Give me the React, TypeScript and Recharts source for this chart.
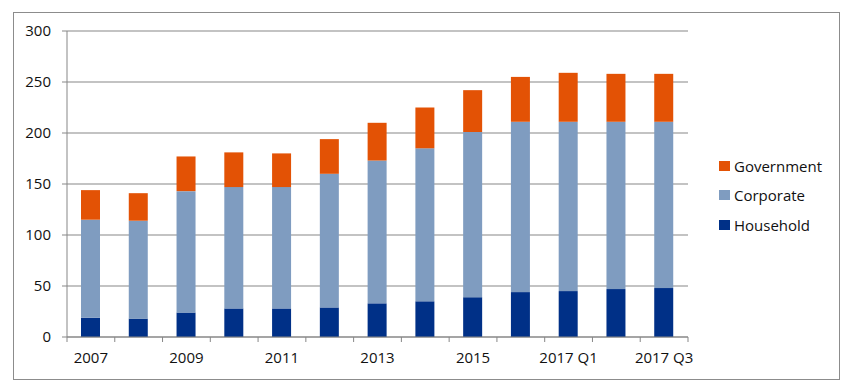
import { BarChart, Bar, XAxis, YAxis, CartesianGrid, Legend } from 'recharts';

const categories = ['2007', '2008', '2009', '2010', '2011', '2012', '2013', '2014', '2015', '2016', '2017 Q1', '2017 Q2', '2017 Q3'];
const household = [19, 18, 24, 28, 28, 29, 33, 35, 39, 44, 45, 47, 48];
const corporate = [96, 96, 119, 119, 119, 131, 140, 150, 162, 167, 166, 164, 163];
const government = [29, 27, 34, 34, 33, 34, 37, 40, 41, 44, 48, 47, 47];
const yTicks = [0, 50, 100, 150, 200, 250, 300];

const series = [
  { key: 'Household', values: household, color: '#003087' },
  { key: 'Corporate', values: corporate, color: '#7f9cc0' },
  { key: 'Government', values: government, color: '#e35205' },
];

const data = categories.map((name, i) => {
  const row: Record<string, any> = { name };
  series.forEach((s) => (row[s.key] = s.values[i]));
  return row;
});

const AXIS = '#878787';
const FONT = '"Open Sans", sans-serif';
const W = 849;
const H = 390;
const margin = { top: 31, right: 161, bottom: 0, left: 0 };
const Y_WIDTH = 67;
const X_HEIGHT = 53;
const TICK_SIZE = 5;
const TICK_MARGIN = 10;

const XTick = (props: any) => {
  const { x, y, payload, index } = props;
  const half = payload?.offset ?? (W - margin.left - margin.right - Y_WIDTH) / categories.length / 2;
  const axisY = y - TICK_SIZE - TICK_MARGIN;
  const last = index === categories.length - 1;
  return (
    <g>
      <line x1={x - half} x2={x - half} y1={axisY} y2={axisY + TICK_SIZE} stroke={AXIS} />
      {last && <line x1={x + half} x2={x + half} y1={axisY} y2={axisY + TICK_SIZE} stroke={AXIS} />}
      {index % 2 === 0 && (
        <text x={x} y={y} dy="0.71em" textAnchor="middle" fontSize={15} fontFamily={FONT} fill="#111">
          {payload.value}
        </text>
      )}
    </g>
  );
};

const LegendContent = () => (
  <div style={{ fontFamily: FONT, fontSize: 15, color: '#111' }}>
    {[...series].reverse().map((s) => (
      <div key={s.key} style={{ display: 'flex', alignItems: 'center', height: 29.5 }}>
        <span style={{ width: 11, height: 10, background: s.color, marginRight: 4, display: 'inline-block' }} />
        <span style={{ lineHeight: '18px' }}>{s.key}</span>
      </div>
    ))}
  </div>
);

export default function App() {
  return (
    <div style={{ position: 'absolute', left: 0, top: 0, width: W, height: H, background: '#fff' }}>
      <div
        style={{
          position: 'absolute',
          left: 13,
          top: 12,
          width: 827,
          height: 368,
          border: '1px solid #8c8c8c',
          boxSizing: 'border-box',
        }}
      />
      <div style={{ position: 'absolute', left: 0, top: 0 }}>
        <BarChart width={W} height={H} data={data} margin={margin} barSize={19}>
          <CartesianGrid vertical={false} stroke={AXIS} />
          <XAxis
            dataKey="name"
            height={X_HEIGHT}
            interval={0}
            stroke={AXIS}
            tickLine={false}
            tickSize={TICK_SIZE}
            tickMargin={TICK_MARGIN}
            tick={<XTick />}
          />
          <YAxis
            width={Y_WIDTH}
            domain={[0, 300]}
            ticks={yTicks}
            interval={0}
            stroke={AXIS}
            tickSize={TICK_SIZE}
            tickMargin={11}
            tick={{ fontSize: 15, fontFamily: FONT, fill: '#111' }}
          />
          {series.map((s) => (
            <Bar key={s.key} dataKey={s.key} stackId="debt" fill={s.color} isAnimationActive={false} />
          ))}
          <Legend
            layout="vertical"
            align="center"
            verticalAlign="middle"
            content={<LegendContent />}
            wrapperStyle={{ left: 719, top: 151, width: 120 }}
          />
        </BarChart>
      </div>
    </div>
  );
}
